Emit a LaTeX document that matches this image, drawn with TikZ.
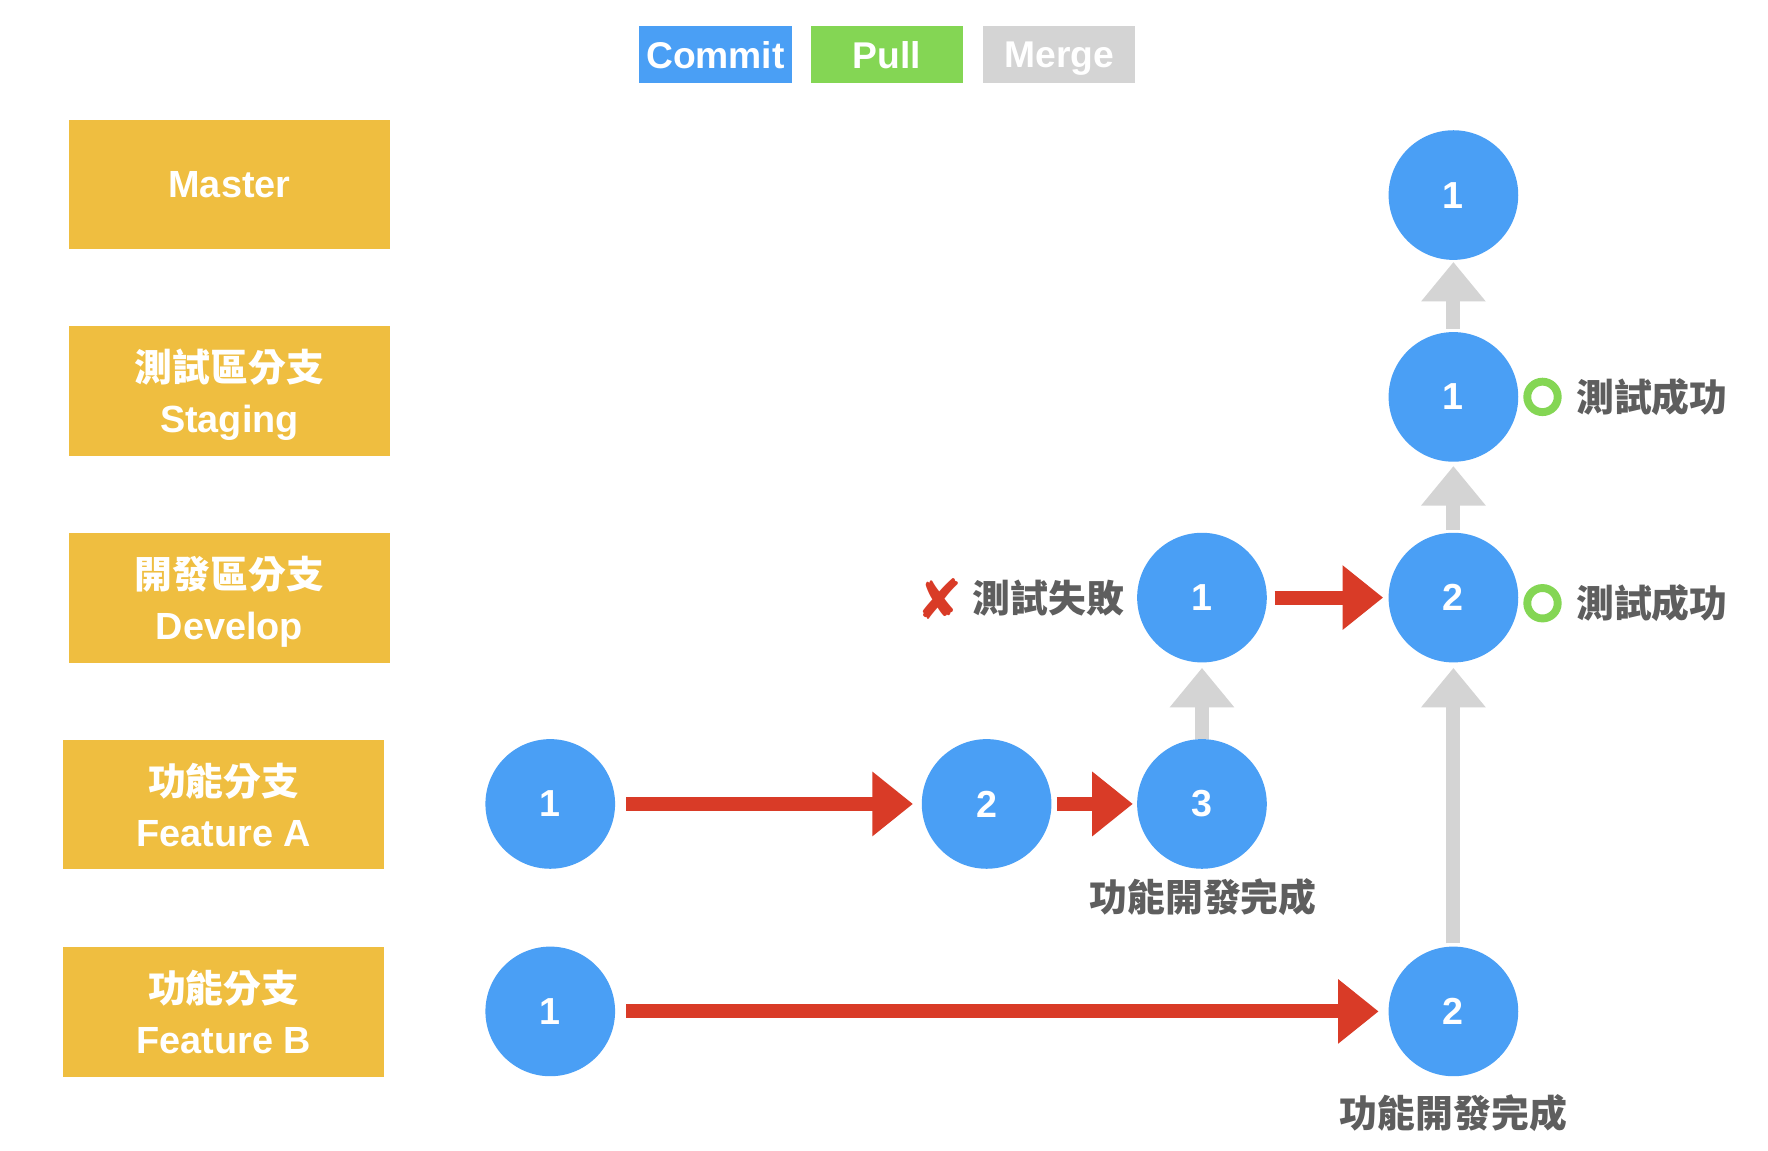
\documentclass[tikz,border=0pt]{standalone}
\usepackage{fontspec}
\setmainfont{Liberation Sans}
\newfontfamily\cjk{Noto Sans CJK TC}
\newfontfamily\symfont{DejaVu Sans}
\usetikzlibrary{arrows.meta}
\definecolor{cblue}{HTML}{4A9FF5}
\definecolor{cgreen}{HTML}{84D654}
\definecolor{cmerge}{HTML}{D4D4D4}
\definecolor{cyellow}{HTML}{EFBE40}
\definecolor{cred}{HTML}{D93B27}
\definecolor{cgray}{HTML}{5E5E5E}
\begin{document}
\begin{tikzpicture}[x=0.02cm,y=-0.02cm,
  commit/.style={circle, fill=cblue, minimum size=2.3cm, inner sep=0pt, text=white, font=\fontsize{19}{23}\selectfont\bfseries},
  branch/.style={rectangle, fill=cyellow, minimum width=5.7cm, minimum height=2.3cm, inner sep=0pt, text=white, align=center, text depth=0pt, font=\fontsize{19.1}{25.6}\selectfont\bfseries},
  legend/.style={rectangle, minimum width=2.7cm, minimum height=1.02cm, text=white, text depth=0pt, font=\fontsize{18.8}{22}\selectfont\bfseries, inner sep=0pt},
  note/.style={text=cgray, font=\cjk\fontsize{19.1}{23}\selectfont\bfseries, inner sep=0pt},
  ring/.style={circle, draw=cgreen, line width=0.14cm, minimum size=0.54cm, inner sep=0pt},
  redarrow/.style={draw=cred, line width=0.25cm, -{Triangle[length=0.72cm,width=1.1cm]}},
  grayarrow/.style={draw=cmerge, line width=0.25cm, -{Triangle[length=0.70cm,width=1.1cm]}},
]
\fill[white] (0,0) rectangle (1568,1020);
% legend
\node[legend, fill=cblue] (lcommit) at (634.5,48.5) {Commit};
\node[legend, fill=cgreen] (lpull) at (786.5,48.5) {Pull};
\node[legend, fill=cmerge] (lmerge) at (939.5,48.5) {Merge};
% branches
\node[branch] (bmaster) at (203.5,163.5) {Master};
\node[branch] (bstaging) at (203.5,346.5) {{\cjk 測試區分支}\\Staging};
\node[branch] (bdevelop) at (203.5,530.5) {{\cjk 開發區分支}\\Develop};
\node[branch] (bfa) at (198.5,713.5) {{\cjk 功能分支}\\Feature A};
\node[branch] (bfb) at (198.5,897.5) {{\cjk 功能分支}\\Feature B};
% commits
\node[commit] (m1) at (1289,173) {1};
\node[commit] (s1) at (1289,352) {1};
\node[commit] (d1) at (1066,530) {1};
\node[commit] (d2) at (1289,530) {2};
\node[commit] (fa1) at (488,713) {1};
\node[commit] (fa2) at (875,713) {2};
\node[commit] (fa3) at (1066,713) {3};
\node[commit] (fb1) at (488,897) {1};
\node[commit] (fb2) at (1289,897) {2};
% red arrows (commit)
\draw[redarrow, shorten <=0.19cm, shorten >=0.15cm] (fa1) -- (fa2);
\draw[redarrow, shorten <=0.09cm, shorten >=0.07cm] (fa2) -- (fa3);
\draw[redarrow, shorten <=0.13cm, shorten >=0.09cm] (d1) -- (d2);
\draw[redarrow, shorten <=0.19cm, shorten >=0.17cm] (fb1) -- (fb2);
% gray arrows (merge)
\draw[grayarrow, shorten <=0cm, shorten >=0.09cm] (fa3) -- (d1);
\draw[grayarrow, shorten <=0.05cm, shorten >=0.09cm] (fb2) -- (d2);
\draw[grayarrow, shorten <=0.05cm, shorten >=0.07cm] (d2) -- (s1);
\draw[grayarrow, shorten <=0.05cm, shorten >=0.03cm] (s1) -- (m1);
% notes
\node[text=cred, font=\symfont\fontsize{28}{30}\selectfont, inner sep=0pt] (xmark) at (833,531) {✘};
\node[note] (fail) at (930,530) {測試失敗};
\node[ring] (ring1) at (1368,352) {};
\node[note] (ok1) at (1465,352) {測試成功};
\node[ring] (ring2) at (1368,535) {};
\node[note] (ok2) at (1465,535) {測試成功};
\node[note] (doneA) at (1067,796) {功能開發完成};
\node[note] (doneB) at (1289,987) {功能開發完成};
\end{tikzpicture}
\end{document}
